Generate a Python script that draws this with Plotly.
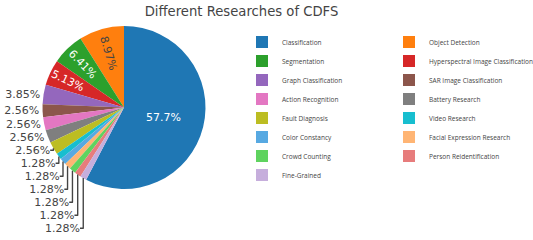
import plotly.graph_objects as go

labels = [
    "Classification", "Object Detection", "Segmentation",
    "Hyperspectral Image Classification", "Graph Classification",
    "SAR Image Classification", "Action Recognition", "Battery Research",
    "Fault Diagnosis", "Video Research", "Color Constancy",
    "Facial Expression Research", "Crowd Counting", "Person Reidentification",
    "Fine-Grained",
]
counts = [45, 7, 5, 4, 3, 2, 2, 2, 2, 1, 1, 1, 1, 1, 1]
title_text = "Different Researches of CDFS"

W, H = 533, 240
ML, MR, MT, MB = 0, 150, 26, 51
PW = W - ML - MR  # plot-area width in px
PH = H - MT - MB
d3_colors = ["#1f77b4", "#ff7f0e", "#2ca02c", "#d62728", "#9467bd",
             "#8c564b", "#e377c2", "#7f7f7f", "#bcbd22", "#17becf"]

fig = go.Figure(
    go.Pie(
        labels=labels,
        values=counts,
        sort=False,
        textinfo="percent",
        textfont=dict(family="DejaVu Sans", size=11),
        domain=dict(x=[0, 248 / PW], y=[0, 1]),
    )
)

fig.update_layout(
    template="none",
    colorway=d3_colors,
    width=W,
    height=H,
    margin=dict(l=ML, r=MR, t=MT, b=MB, autoexpand=False),
    paper_bgcolor="white",
    font=dict(family="DejaVu Sans", size=11, color="#444"),
    title=dict(
        text=title_text,
        x=241.5 / W,
        xanchor="center",
        y=0.97,
        yanchor="top",
        yref="container",
        font=dict(family="DejaVu Sans", size=13.2, color="#444"),
    ),
    legend=dict(
        orientation="h",
        x=242 / PW,
        xanchor="left",
        y=1.0 - 1.5 / PH,
        yanchor="top",
        entrywidth=102,
        entrywidthmode="pixels",
        maxheight=220,
        bgcolor="rgba(0,0,0,0)",
        font=dict(family="Open Sans", size=6.5, color="#444"),
        traceorder="normal",
    ),
)

fig.write_html(
    "out.html",
    config={"displayModeBar": False},
    post_script="document.body.style.margin='0';",
)
